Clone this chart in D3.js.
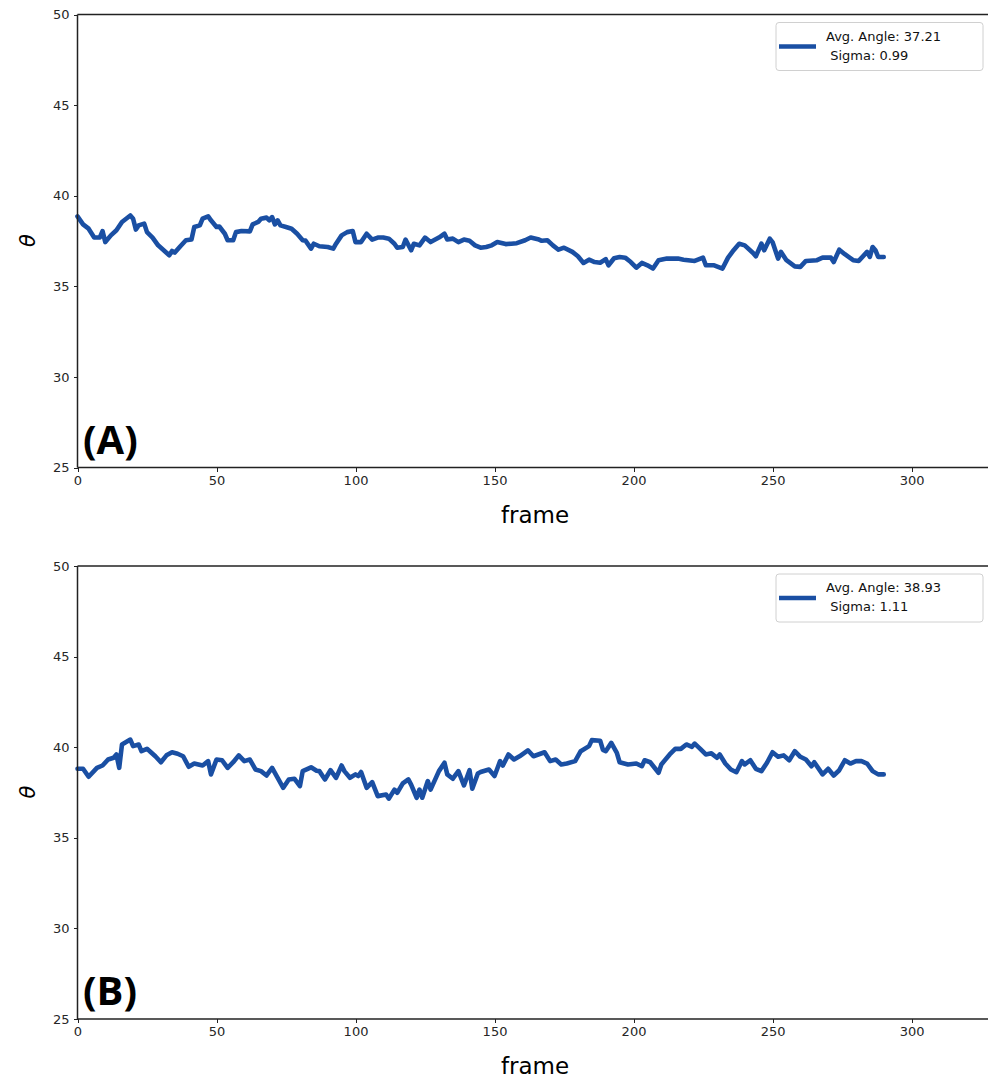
<!doctype HTML>
<html lang="en">
<head>
<title>Angle per frame</title>
<script src="https://d3js.org/d3.v7.min.js"></script>
<style type="text/css">
  body { margin: 0; background: white; }
  .axis path, .axis line { stroke: #222; shape-rendering: crispEdges; }
  .axis text { font-family: "DejaVu Sans", sans-serif; font-size: 13px; fill: #262626; }
</style>
</head>
<body>
<script type="text/javascript">

// values
var framesA = [0,2,4,6,8,9,10,12,14,16,19,20,21,22,24,25,27,29,31,33,34,35,37,39,41,42,44,45,47,48,50,51,53,54,56,57,59,62,63,65,66,68,69,70,71,72,73,75,77,79,81,82,84,85,87,90,92,93,95,97,99,100,102,104,106,108,110,112,114,115,117,118,120,121,123,125,127,130,132,133,135,137,139,141,143,145,147,149,151,154,156,158,161,163,166,167,169,171,173,175,178,180,182,184,186,188,190,191,193,195,197,199,201,203,205,207,209,212,216,218,222,225,226,229,232,234,236,238,240,243,244,246,247,249,250,252,253,255,258,260,262,266,268,271,272,274,276,279,281,284,285,286,287,288,290];
var thetaA = [38.86,38.42,38.18,37.69,37.69,38.05,37.44,37.81,38.09,38.55,38.91,38.73,38.13,38.36,38.46,37.99,37.69,37.26,36.99,36.71,36.95,36.86,37.21,37.54,37.58,38.27,38.36,38.73,38.86,38.64,38.27,38.3,37.9,37.54,37.54,37.99,38.05,38.03,38.42,38.55,38.73,38.79,38.64,38.82,38.42,38.64,38.36,38.27,38.18,37.9,37.54,37.52,37.08,37.35,37.21,37.17,37.08,37.35,37.81,37.99,38.05,37.44,37.44,37.9,37.58,37.69,37.69,37.63,37.35,37.13,37.17,37.58,36.99,37.35,37.26,37.69,37.44,37.69,37.9,37.58,37.63,37.44,37.58,37.51,37.26,37.13,37.17,37.26,37.44,37.33,37.35,37.38,37.54,37.69,37.58,37.51,37.54,37.26,37.02,37.13,36.9,36.66,36.29,36.47,36.34,36.3,36.5,36.16,36.55,36.62,36.58,36.34,36.03,36.29,36.16,35.98,36.44,36.53,36.53,36.47,36.4,36.58,36.16,36.16,35.98,36.58,36.99,37.35,37.26,36.84,36.66,37.35,36.99,37.63,37.44,36.53,36.9,36.44,36.1,36.07,36.4,36.44,36.58,36.58,36.34,37.02,36.77,36.44,36.4,36.9,36.62,37.17,36.99,36.62,36.62];

var framesB = [0,2,4,7,9,11,13,14,15,16,19,20,22,23,25,26,28,30,32,34,36,38,40,42,45,47,48,50,52,54,56,58,60,62,64,66,68,70,72,74,76,78,80,81,84,86,87,89,91,93,95,96,98,100,101,102,104,106,108,111,112,114,115,117,119,120,122,123,124,126,127,130,132,133,135,137,139,141,142,144,145,148,150,152,153,155,157,159,162,164,168,170,172,174,176,179,181,184,185,188,189,190,192,194,195,198,201,203,204,206,209,210,213,215,217,219,221,222,224,226,228,230,231,233,235,237,239,240,242,244,246,248,250,252,254,256,258,260,262,264,265,268,270,272,274,276,278,280,282,284,286,288,290];
var thetaB = [38.81,38.81,38.37,38.86,38.99,39.32,39.42,39.6,38.86,40.15,40.42,40.06,40.15,39.78,39.91,39.78,39.5,39.17,39.55,39.72,39.64,39.5,38.92,39.1,38.99,39.23,38.5,39.32,39.28,38.86,39.17,39.55,39.23,39.32,38.77,38.68,38.44,38.86,38.31,37.76,38.22,38.26,37.85,38.68,38.89,38.7,38.68,38.22,38.73,38.31,38.99,38.68,38.31,38.5,38.41,38.63,37.76,38.07,37.3,37.39,37.16,37.66,37.48,38.0,38.22,37.94,37.21,37.66,37.21,38.13,37.66,38.68,39.14,38.5,38.26,38.68,37.89,38.73,37.71,38.55,38.63,38.77,38.41,39.23,38.99,39.6,39.32,39.5,39.83,39.5,39.72,39.23,39.32,39.05,39.1,39.23,39.78,40.06,40.39,40.36,39.85,39.78,40.24,39.69,39.17,39.05,39.1,38.95,39.28,39.17,38.59,39.05,39.6,39.91,39.91,40.15,40.02,40.2,39.91,39.6,39.66,39.42,39.6,39.1,38.77,38.62,39.23,39.05,39.28,38.81,38.68,39.14,39.72,39.47,39.55,39.28,39.78,39.47,39.32,38.95,39.17,38.5,38.81,38.44,38.73,39.28,39.1,39.23,39.23,39.1,38.68,38.5,38.5];

var xTicks = [0, 50, 100, 150, 200, 250, 300];
var yTicks = [25, 30, 35, 40, 45, 50];
var legendA = ["Avg. Angle: 37.21", " Sigma: 0.99"];
var legendB = ["Avg. Angle: 38.93", " Sigma: 1.11"];

var lineColour = "#1a4fa3";

var svg = d3.select("body").append("svg")
	.attr("width", 988)
	.attr("height", 1081);

function drawPanel(top, frames, values, legendLines, letter) {
	var x = d3.scaleLinear().domain([0, 327.5]).range([77.5, 988]);
	var y = d3.scaleLinear().domain([25, 50]).range([top + 453, top]);

	var g = svg.append("g");

	// the line itself
	var data = frames.map(function(f, i) { return {f: f, v: values[i]}; });
	g.append("path")
		.datum(data)
		.attr("fill", "none")
		.attr("stroke", lineColour)
		.attr("stroke-width", 4.6)
		.attr("stroke-linejoin", "round")
		.attr("stroke-linecap", "round")
		.attr("d", d3.line()
			.x(function(d) { return x(d.f); })
			.y(function(d) { return y(d.v); }));

	// axes
	var xAxis = g.append("g")
		.attr("class", "axis")
		.attr("transform", "translate(0," + (top + 453) + ")")
		.call(d3.axisBottom(x).tickValues(xTicks).tickSize(4).tickPadding(4).tickSizeOuter(0));
	xAxis.select(".domain").remove();

	var yAxis = g.append("g")
		.attr("class", "axis")
		.attr("transform", "translate(77.5,0)")
		.call(d3.axisLeft(y).tickValues(yTicks).tickSize(4).tickPadding(4).tickSizeOuter(0));
	yAxis.select(".domain").remove();

	// spines
	g.append("line").attr("x1", 77.5).attr("x2", 77.5).attr("y1", top).attr("y2", top + 453)
		.attr("stroke", "#222").attr("stroke-width", 1.5);
	g.append("line").attr("x1", 77.5).attr("x2", 988).attr("y1", top).attr("y2", top)
		.attr("stroke", "#222").attr("stroke-width", 1.5);
	g.append("line").attr("x1", 77.5).attr("x2", 988).attr("y1", top + 453).attr("y2", top + 453)
		.attr("stroke", "#222").attr("stroke-width", 1.5);

	// axis labels
	g.append("text")
		.attr("x", 535)
		.attr("y", top + 508)
		.attr("text-anchor", "middle")
		.style("font-family", "DejaVu Sans, sans-serif")
		.style("font-size", "23px")
		.text("frame");

	g.append("text")
		.attr("transform", "translate(35," + (top + 226) + ") rotate(-90)")
		.attr("text-anchor", "middle")
		.style("font-family", "DejaVu Sans, sans-serif")
		.style("font-style", "italic")
		.style("font-size", "21px")
		.text("θ");

	// panel letter
	g.append("text")
		.attr("x", 83)
		.attr("y", top + 439)
		.style("font-family", "Open Sans, sans-serif")
		.style("font-weight", "bold")
		.style("font-size", "40px")
		.text(letter);

	// legend
	var lg = g.append("g").attr("transform", "translate(776," + (top + 8) + ")");
	lg.append("rect")
		.attr("width", 207).attr("height", 48).attr("rx", 3)
		.attr("fill", "white").attr("stroke", "#d0d0d0");
	lg.append("line")
		.attr("x1", 3).attr("x2", 40).attr("y1", 24).attr("y2", 24)
		.attr("stroke", lineColour).attr("stroke-width", 4.6);
	lg.selectAll("text.leg")
		.data(legendLines)
		.enter()
		.append("text")
		.attr("class", "leg")
		.attr("x", 50)
		.attr("y", function(d, i) { return 18 + i * 19; })
		.style("font-family", "DejaVu Sans, sans-serif")
		.style("font-size", "13px")
		.style("white-space", "pre")
		.attr("fill", "#111")
		.text(function(d) { return d; });
}

drawPanel(14.5, framesA, thetaA, legendA, "(A)");
drawPanel(566, framesB, thetaB, legendB, "(B)");

</script>
</body>
</html>
